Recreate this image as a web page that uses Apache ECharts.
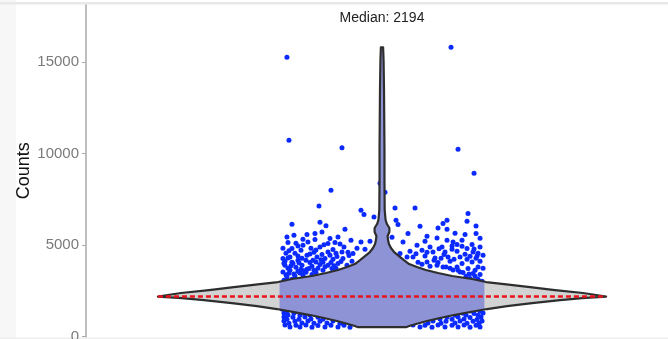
<!DOCTYPE html>
<html><head><meta charset="utf-8">
<script src="https://cdn.jsdelivr.net/npm/echarts@6/dist/echarts.min.js"></script>
<style>html,body{margin:0;padding:0;background:#fff}#chart{width:668px;height:339px}</style>
</head><body><div id="chart"></div>
<script>
// ---- data ----
const medianValue = 2194;
const yTicks = [0, 5000, 10000, 15000];
const yLabel = 'Counts';

// violin profile: counts value and relative density (1 = widest)
const violinCounts = [519, 582, 691, 855, 1019, 1183, 1347, 1511, 1675, 1839, 2003, 2112, 2194,
  2388, 2549, 2713, 2877, 2986, 3150, 3314, 3478, 3642, 3806, 3970, 4188, 4407, 4625, 4844,
  5062, 5281, 5499, 5718, 5936, 6155, 6374, 6920, 8560, 10200, 11830, 13470, 15110, 15810];
const violinDensity = [0.107, 0.121, 0.152, 0.201, 0.259, 0.321, 0.393, 0.469, 0.558, 0.670, 0.795, 0.893, 1.000,
  0.897, 0.772, 0.661, 0.545, 0.464, 0.402, 0.313, 0.250, 0.196, 0.156, 0.121, 0.098, 0.076, 0.054, 0.040,
  0.031, 0.027, 0.025, 0.033, 0.033, 0.022, 0.016, 0.012, 0.011, 0.011, 0.010, 0.009, 0.007, 0.005];

// jittered points: [jitter fraction (-1..1), counts]
const highPoints = [[-0.95,15261],[-0.93,10729],[-0.40,10319],[0.69,15807],[0.76,10238],[0.92,8927],[-0.02,8381],[0.03,7890]];
const upperLeftPoints = [[-0.51,7999],[-0.63,7142],[-0.21,6907],[-0.18,6672],[-0.08,6541],[-0.90,6143],[-0.62,6252],[-0.56,6061],
  [-0.37,5870],[-0.95,5449],[-0.88,5542],[-0.75,5580],[-0.67,5635],[-0.60,5722],[-0.79,5324],[-0.67,5310],[-0.52,5362],[-0.44,5449],
  [-0.31,5269],[-0.94,5143],[-0.74,5176],[-0.54,5089],[-0.47,5143],[-0.38,4903],[-0.21,5176],[-0.12,5214],[-0.17,4778],[-0.90,4816],
  [-0.81,4723],[-0.71,4830],[-0.62,4903],[-0.54,4630],[-0.40,4630],[-0.29,4543],[-0.99,4270],[-0.92,4357],[-0.84,4412],[-0.75,4450],
  [-0.65,4357],[-0.57,4270],[-0.49,4232],[-0.39,4270],[-0.30,4122],[-0.97,3904],[-0.89,3997],[-0.80,3904],[-0.72,4051],[-0.62,3942],
  [-0.54,3904],[-0.44,3997],[-0.35,3904],[-0.99,3538],[-0.92,3631],[-0.84,3576],[-0.75,3686],[-0.68,3631],[-0.59,3631],[-0.50,3724],
  [-0.95,3265],[-0.87,3320],[-0.79,3358],[-0.70,3396],[-0.98,3085],[-0.90,3140],[-0.94,3740],[-0.86,3795],[-0.78,3604],[-0.70,3849],
  [-0.64,3740],[-0.93,3467],[-0.97,4122],[-0.84,4177],[-0.69,4177],[-0.59,4068],[-0.46,3740],[-0.79,4996],[-0.86,5105],[-0.99,4832],
  [-0.68,4614],[-0.76,4177],[-0.90,4068],[-0.96,4559],[-0.52,4450],[-0.25,4832],[-0.34,4614],
  [-0.96,3380],[-0.88,3420],[-0.82,3480],[-0.76,3520],[-0.66,3520],[-0.91,3880],[-0.81,3690],[-0.73,3720],[-0.57,3820],[-0.48,3870],
  [-0.98,4010],[-0.83,4040],[-0.66,4080],[-0.51,4060],[-0.41,4110],[-0.94,4300],[-0.80,4290],[-0.61,4210],[-0.45,4380],[-0.33,4440],
  [-0.87,4560],[-0.72,4520],[-0.60,4490],[-0.46,4560],[-0.93,4700],[-0.66,4740],[-0.49,4770],[-0.84,4960],[-0.58,5020],[-0.42,5060]];
const upperRightPoints = [[0.13,7032],[0.33,7032],[0.86,6727],[0.14,6361],[0.16,6126],[0.65,6361],[0.61,6181],[0.56,5940],
  [0.65,5870],[0.85,6306],[0.94,6050],[0.26,5635],[0.83,5580],[0.94,5635],[0.21,5176],[0.43,5214],[0.55,5394],[0.65,5269],
  [0.71,5176],[0.80,5269],[0.90,5034],[0.35,4996],[0.48,4903],[0.60,4903],[0.70,4958],[0.85,4816],[0.98,4903],[0.28,4668],
  [0.40,4723],[0.51,4630],[0.63,4630],[0.75,4668],[0.91,4630],[0.31,4357],[0.43,4412],[0.53,4302],[0.66,4357],[0.78,4357],
  [0.95,4412],[0.45,4084],[0.56,4051],[0.68,4122],[0.80,3997],[0.90,4084],[0.98,4122],[0.61,3811],[0.75,3811],[0.86,3724],
  [0.96,3811],[0.81,3505],[0.91,3451],[0.98,3396],[0.88,3178],[0.96,3140],[0.18,4543],[0.25,4357],[0.36,4068],[0.48,3849],
  [1.01,3740],[0.93,3631],[0.84,3303],[1.00,3030],[0.76,3631],[0.68,3740],[0.59,4286],[0.88,4395],[1.01,4450],[0.80,4941],
  [0.45,5487],[0.73,5651],[0.98,5378],[0.38,6033],[0.10,5433],
  [0.93,3300],[0.87,3420],[0.78,3530],[0.71,3640],[0.64,3810],[0.55,3900],[0.40,3960],[0.52,4180],[0.72,4230],[0.85,4230],
  [0.94,4290],[0.62,4490],[0.83,4510],[0.96,4560],[0.34,4530],[0.45,4620],[0.70,4780],[0.57,4800],[0.92,4790],[0.75,5040]];
const lowerPoints = [[-0.92,525],[-0.82,531],[-0.70,519],[-0.57,528],[-0.44,536],[-0.32,522],[0.38,530],[0.50,521],[0.63,534],[0.76,526],[0.88,520],[0.98,532],
  [-0.97,640],[-0.86,622],[-0.76,635],[-0.64,618],[-0.51,630],[-0.38,626],[0.31,633],[0.43,619],[0.56,641],[0.70,625],[0.82,637],[0.94,624],
  [-0.93,731],[-0.80,744],[-0.68,729],[-0.55,752],[-0.42,740],[0.46,748],[0.59,733],[0.73,745],[0.85,728],[0.97,741],
  [-0.98,851],[-0.87,838],[-0.74,860],[-0.62,842],[-0.49,855],[0.51,858],[0.64,840],[0.78,852],[0.91,845],[1.00,862],
  [-0.95,960],[-0.83,948],[-0.71,971],[-0.59,955],[0.58,962],[0.70,951],[0.82,968],[0.95,944],
  [-0.98,1070],[-0.89,1058],[-0.77,1079],[-0.64,1062],[0.65,1066],[0.76,1081],[0.88,1055],[0.99,1072],
  [-0.94,1180],[-0.82,1168],[-0.72,1186],[0.73,1171],[0.84,1189],[0.96,1165],
  [-0.98,1290],[-0.88,1277],[-0.78,1295],[0.81,1286],[0.92,1271],[1.01,1298],
  [-0.95,1398],[-0.86,1385],[0.88,1401],[0.98,1388],
  [-1.00,1510],[0.97,1495]];

// ---- layout / style ----
const JITTER_W = 0.338;   // jitter half-width in x units
const VIOLIN_W = 0.757;   // violin half-width at max density, x units
const allPoints = highPoints.concat(upperLeftPoints, upperRightPoints, lowerPoints);

const chart = echarts.init(document.getElementById('chart'), null, {renderer: 'canvas'});

function violinRender(params, api) {
  const right = [], left = [], rightB = [], leftB = [];
  for (let i = 0; i < violinCounts.length; i++) {
    const hw = violinDensity[i] * VIOLIN_W;
    right.push(api.coord([hw, violinCounts[i]]));
    left.push(api.coord([-hw, violinCounts[i]]));
    const hb = Math.min(hw, JITTER_W + 0.008);
    rightB.push(api.coord([hb, violinCounts[i]]));
    leftB.push(api.coord([-hb, violinCounts[i]]));
  }
  const outline = right.concat(left.reverse());
  const band = rightB.concat(leftB.reverse());
  return {type: 'group', children: [
    {type: 'polygon', shape: {points: outline}, style: {fill: '#d3d3d3', stroke: null}},
    {type: 'polygon', shape: {points: band}, style: {fill: '#8e93d6', stroke: null}},
    {type: 'polygon', shape: {points: outline}, style: {fill: null, stroke: '#2e2e2e', lineWidth: 2.2, lineJoin: 'round'}}
  ]};
}

const option = {
  animation: false,
  backgroundColor: '#ffffff',
  textStyle: {fontFamily: '"Liberation Sans", Arial, sans-serif'},
  grid: {left: 86, top: 5, width: 592, height: 331.7, containLabel: false, outerBoundsMode: 'none'},
  xAxis: {type: 'value', min: -1, max: 1, show: false},
  yAxis: {
    type: 'value', min: 0, max: 18120,
    name: yLabel, nameLocation: 'middle', nameGap: 53, nameRotate: 90, nameMoveOverlap: false,
    nameTextStyle: {fontSize: 18, color: '#111'},
    axisLine: {show: true, onZero: false, lineStyle: {color: '#a9a9a9', width: 1.5}},
    axisTick: {show: true, length: 4, lineStyle: {color: '#a9a9a9', width: 1}, customValues: yTicks},
    axisLabel: {color: '#7a7a7a', fontSize: 15, margin: 7, customValues: yTicks, formatter: v => String(v)},
    splitLine: {show: false}
  },
  graphic: [
    {type: 'rect', shape: {x: 0, y: 0, width: 16, height: 339}, style: {fill: '#f7f7f7'}, z: -10, silent: true},
    {type: 'rect', shape: {x: 0, y: 2, width: 668, height: 2.5}, style: {fill: '#e8e8e8'}, z: -10, silent: true},
    {type: 'rect', shape: {x: 0, y: 337.5, width: 668, height: 1.5}, style: {fill: '#eeeeee'}, z: -10, silent: true},
    {type: 'text', x: 382, y: 18, z: 10,
      style: {text: 'Median: ' + medianValue, fill: '#222', font: '14px "Liberation Sans", Arial, sans-serif', align: 'center', verticalAlign: 'middle'}}
  ],
  series: [
    {type: 'scatter', data: allPoints.map(p => [p[0] * JITTER_W, p[1]]), symbolSize: 5,
      itemStyle: {color: '#0a2aff', opacity: 1}, silent: true, z: 1},
    {type: 'custom', data: [[0, medianValue]], renderItem: violinRender, silent: true, z: 2, clip: false},
    {type: 'line', data: [[-VIOLIN_W, medianValue], [VIOLIN_W, medianValue]], symbol: 'none', silent: true, z: 3,
      lineStyle: {color: '#e8141c', width: 2.5, type: [5, 3]}}
  ]
};
chart.setOption(option);
</script>
</body></html>
